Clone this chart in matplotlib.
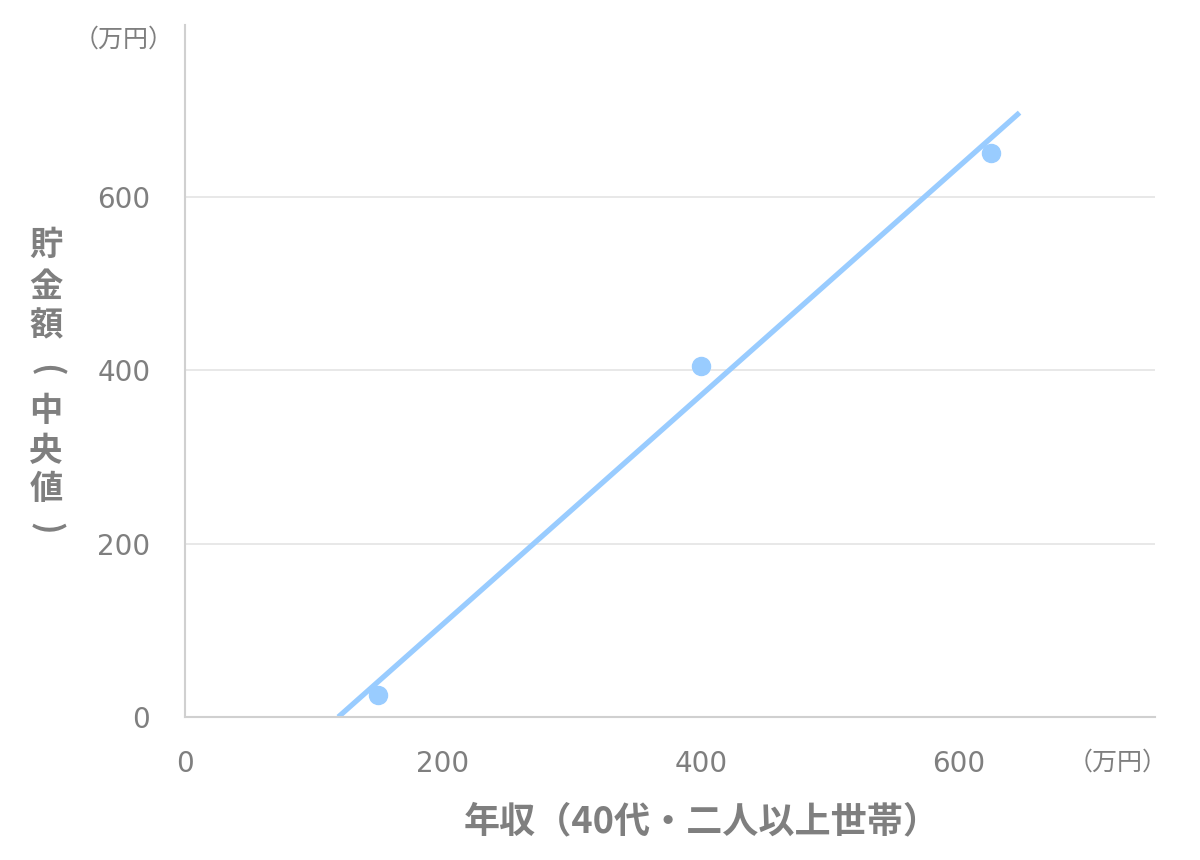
import matplotlib
matplotlib.use("Agg")
import matplotlib.pyplot as plt
import numpy as np

plt.rcParams['font.family'] = ['Noto Sans CJK JP', 'DejaVu Sans']

# data
income = [150, 400, 625]          # 年収 (万円)
savings = [25, 405, 650]          # 貯金額 中央値 (万円)
x_ticks = [0, 200, 400, 600]
y_ticks = [0, 200, 400, 600]
x_label = "年収（40代・二人以上世帯）"
y_label_chars = ["貯", "金", "額", "(", "中", "央", "値", ")"]
unit = "（万円）"

GRAY = "#7f7f7f"
BLUE = "#99ccff"

fig = plt.figure(figsize=(12, 8.6), dpi=100)
ax = fig.add_axes([185/1200, 1-717/860, (1155-185)/1200, (717-25)/860])

# trendline (linear fit), clipped at y=0 and extended forward
slope, intercept = np.polyfit(income, savings, 1)
x0 = -intercept / slope
x1 = 647
xs = np.array([x0, x1])
ax.plot(xs, slope*xs + intercept, color=BLUE, lw=3.8, solid_capstyle='butt', zorder=2)
ax.plot(income, savings, 'o', color=BLUE, ms=13, zorder=3)

ax.set_xlim(0, 752)
ax.set_ylim(0, 798)
ax.set_xticks(x_ticks)
ax.set_yticks(y_ticks)
ax.tick_params(length=0, labelsize=20, colors=GRAY)
ax.tick_params(axis='y', pad=25)
ax.tick_params(axis='x', pad=24)
for lab in ax.get_xticklabels() + ax.get_yticklabels():
    lab.set_family('DejaVu Sans')
ax.grid(axis='y', color='#e6e6e6', lw=1.3)
ax.set_axisbelow(True)
for s in ['top', 'right']:
    ax.spines[s].set_visible(False)
for s in ['left', 'bottom']:
    ax.spines[s].set_color('#d0d0d0')
    ax.spines[s].set_linewidth(1.5)

# unit labels
fig.text(124/1200, 1-40/860, unit, fontsize=18, color=GRAY, ha='center', va='center')
fig.text(1118/1200, 1-763/860, unit, fontsize=18, color=GRAY, ha='center', va='center')

# x label
fig.text(702/1200, 1-822/860, x_label, fontsize=26, fontweight='bold', color=GRAY,
         ha='center', va='center')

# y label stacked vertically
ys = [245, 287, 326, 370, 412, 452, 490, 528]
for ch, yy in zip(y_label_chars, ys):
    rot = -90 if ch in "()" else 0
    fig.text(46/1200, 1-yy/860, ch, fontsize=24, fontweight='bold', color=GRAY,
             ha='center', va='center', rotation=rot)

fig.savefig("out.png", dpi=100)
